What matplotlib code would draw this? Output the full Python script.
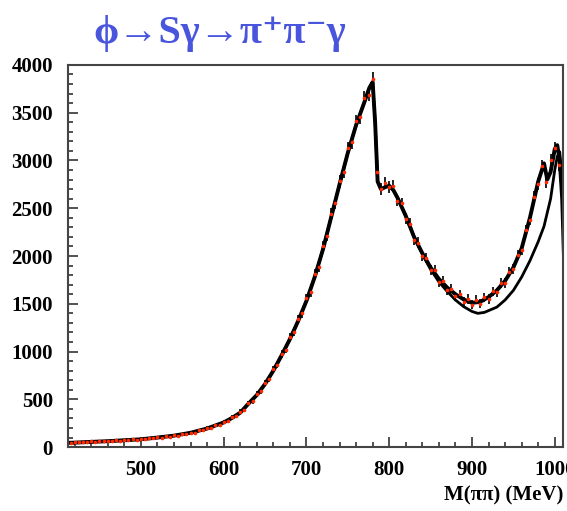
import matplotlib

matplotlib.use("Agg")
import matplotlib.pyplot as plt
import numpy as np
from matplotlib.ticker import MultipleLocator

# fit 1 (follows the data everywhere)
fit1_m = [412, 420, 440, 460, 480, 500, 520, 540, 560, 580, 600, 610, 620, 630, 640,
          650, 660, 670, 680, 690, 700, 710, 720, 730, 740, 750, 760, 770, 776, 780,
          783, 786, 790, 795, 800, 805, 810, 820, 830, 840, 850, 860, 870, 880, 890,
          900, 910, 920, 930, 940, 950, 960, 970, 980, 987, 991, 995, 1000, 1003, 1006,
          1009, 1011]
fit1_n = [45, 47, 55, 62, 72, 82, 100, 120, 150, 195, 258, 305, 360, 455, 545,
          660, 800, 960, 1130, 1320, 1530, 1780, 2070, 2410, 2750, 3080, 3370, 3610, 3760, 3820,
          3400, 2780, 2700, 2720, 2735, 2690, 2610, 2420, 2200, 2030, 1880, 1760, 1670, 1600, 1545,
          1510, 1520, 1570, 1640, 1740, 1880, 2080, 2400, 2780, 2970, 2800, 2880, 3120, 3160, 3000,
          2600, 2030]

# fit 2 (lower curve above the f0 region)
fit2_m = [412, 420, 440, 460, 480, 500, 520, 540, 560, 580, 600, 610, 620, 630, 640,
          650, 660, 670, 680, 690, 700, 710, 720, 730, 740, 750, 760, 770, 776, 780,
          783, 786, 790, 795, 800, 805, 810, 820, 830, 840, 850, 860, 870, 880, 890,
          900, 907, 915, 930, 940, 950, 960, 970, 980, 987, 995, 1000, 1003, 1006, 1008,
          1011]
fit2_n = [45, 47, 55, 62, 72, 82, 100, 120, 150, 195, 258, 305, 360, 455, 545,
          660, 800, 960, 1130, 1320, 1530, 1780, 2070, 2410, 2750, 3080, 3370, 3610, 3760, 3820,
          3400, 2780, 2700, 2720, 2735, 2690, 2610, 2420, 2200, 2020, 1860, 1730, 1630, 1540, 1470,
          1420, 1400, 1410, 1465, 1540, 1640, 1780, 1950, 2150, 2310, 2600, 2900, 3040, 3090, 2900,
          2100]

# data points, 5 MeV bins
data_m = list(range(415, 1011, 5))
data_n = [44, 52, 49, 56, 53, 61, 55, 64, 60, 66,
          63, 73, 66, 75, 74, 84, 77, 88, 85, 96,
          92, 103, 100, 113, 108, 122, 121, 137, 136, 153,
          152, 174, 176, 199, 200, 228, 232, 262, 272, 312,
          322, 372, 390, 462, 482, 556, 588, 672, 712, 815,
          860, 975, 1020, 1150, 1200, 1340, 1400, 1560, 1620, 1810,
          1890, 2100, 2210, 2440, 2550, 2780, 2880, 3130, 3190, 3410,
          3450, 3650, 3690, 3850, 2880, 2700, 2760, 2720, 2730, 2580,
          2550, 2390, 2340, 2170, 2140, 2000, 1980, 1850, 1850, 1730,
          1740, 1640, 1660, 1580, 1600, 1520, 1550, 1490, 1540, 1500,
          1570, 1550, 1630, 1620, 1720, 1720, 1830, 1860, 2010, 2060,
          2270, 2380, 2620, 2750, 2940, 2770, 3000, 3130, 2950, 2280]

x_ticks = [500, 600, 700, 800, 900, 1000]
y_ticks = [0, 500, 1000, 1500, 2000, 2500, 3000, 3500, 4000]

fig = plt.figure(figsize=(5.67, 5.11), dpi=100)
ax = fig.add_axes([0.120, 0.125, 0.873, 0.748])

data_err = np.sqrt(data_n) * 1.2
ax.errorbar(data_m, data_n, yerr=data_err, fmt="none", ecolor="#111111", elinewidth=1.3)
ax.plot(fit2_m, fit2_n, color="black", lw=2.0)
ax.plot(fit1_m, fit1_n, color="black", lw=2.8)
ax.plot(data_m, data_n, ls="none", marker="o", ms=1.6, color="#ff2a00", mec="#ff2a00")

ax.set_xlim(412, 1010)
ax.set_ylim(0, 4000)
ax.set_xticks(x_ticks)
ax.set_yticks(y_ticks)
ax.xaxis.set_minor_locator(MultipleLocator(20))
ax.yaxis.set_minor_locator(MultipleLocator(100))
ax.tick_params(which="both", direction="in", top=False, right=False, color="#333333", width=1.2)
ax.tick_params(which="major", length=7)
ax.tick_params(which="minor", length=3.5)
ax.tick_params(axis="y", which="major", pad=11)
ax.tick_params(axis="x", which="major", pad=9)
for lab in ax.get_xticklabels() + ax.get_yticklabels():
    lab.set_family("Liberation Serif")
    lab.set_fontweight("bold")
    lab.set_fontsize(15)
for sp in ax.spines.values():
    sp.set_color("#444444")
    sp.set_linewidth(1.5)

fig.text(0.993, 0.03, "M(ππ) (MeV)", ha="right", va="center",
         family="Liberation Serif", fontweight="bold", fontsize=15)
fig.text(0.165, 0.935, "ϕ→Sγ→π⁺π⁻γ", ha="left", va="center",
         family=["Liberation Serif", "DejaVu Serif"], fontweight="bold", fontsize=29, color="#4a55dd")

fig.savefig("out.png", dpi=100)
